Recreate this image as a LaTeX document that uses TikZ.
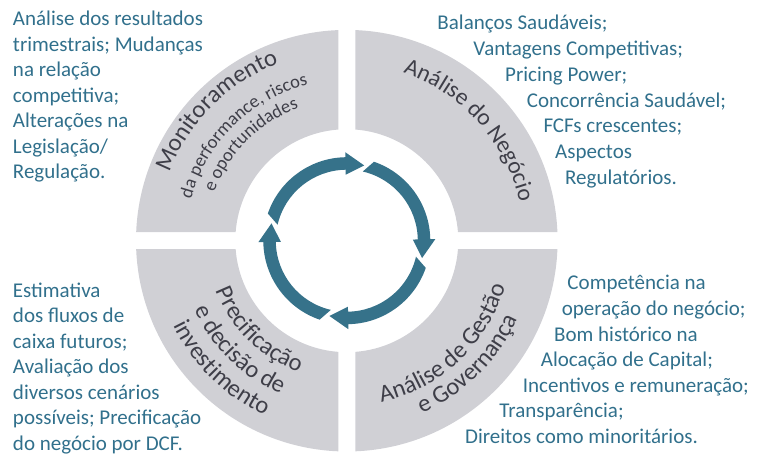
\documentclass[tikz,border=0pt]{standalone}
\usepackage{fontspec}
\setmainfont{Carlito}
\usetikzlibrary{decorations.text}
\definecolor{bodyc}{HTML}{31708C}
\definecolor{arrc}{HTML}{36728A}
\definecolor{quadc}{HTML}{D0D0D5}
\definecolor{qtextc}{HTML}{3E3E48}
\newcommand\qtfont{\fontsize{24.5}{26}\selectfont}
\newcommand\qnfont{\fontsize{23.5}{25}\selectfont}
\newcommand\qsfont{\fontsize{18.5}{20}\selectfont}
\begin{document}
\begin{tikzpicture}[x=1pt,y=1pt,
  body/.style={font=\fontsize{21}{25}\selectfont, text=bodyc, inner sep=0pt, anchor=base west},
  quad/.style={fill=quadc},
  arr/.style={fill=arrc},
  cwtext/.style={decorate, decoration={text along path, text align=center, text color=qtextc, text={#1}}}]
\useasboundingbox (-346.8,-214.3) rectangle (422.2,240.7);
% quadrants
\foreach \k in {0,1,2,3}
  \fill[quad, rotate=90*\k] (87.69:210.8pt) arc[start angle=87.69, end angle=2.31, radius=210.8pt]
     -- (4.37:111.5pt) arc[start angle=4.37, end angle=85.63, radius=111.5pt] -- cycle;
% cycle arrows
\foreach \k in {0,1,2,3}
  \fill[arr, rotate=-90*\k] (161:83.5pt) arc[start angle=161, end angle=91, radius=83.5pt]
     -- (91:88.5pt) -- (77:77.25pt) -- (91:66pt) -- (91:71pt)
     arc[start angle=91, end angle=167, radius=71pt] -- cycle;
% quadrant titles
\path[cwtext={|\qtfont|Monitoramento}] (185:190pt) arc[start angle=185, end angle=85, radius=190pt];
\path[cwtext={|\qsfont|da performance{,} riscos}] (185:161pt) arc[start angle=185, end angle=84, radius=161pt];
\path[cwtext={|\qsfont|e oportunidades}] (185:141pt) arc[start angle=185, end angle=85, radius=141pt];
\path[cwtext={|\qnfont|Análise do Negócio}] (91:177pt) arc[start angle=91, end angle=-7, radius=177pt];
\path[cwtext={|\qtfont|Análise de Gestão}] (-97:165pt) arc[start angle=-97, end angle=3, radius=165pt];
\path[cwtext={|\qtfont|e Governança}] (-95.5:188pt) arc[start angle=-95.5, end angle=4.5, radius=188pt];
\path[cwtext={|\qtfont|Precificação}] (-184.5:140pt) arc[start angle=-184.5, end angle=-84.5, radius=140pt];
\path[cwtext={|\qtfont|e decisão de}] (-184.5:167pt) arc[start angle=-184.5, end angle=-84.5, radius=167pt];
\path[cwtext={|\qtfont|investimento}] (-184.5:193pt) arc[start angle=-184.5, end angle=-84.5, radius=193pt];
% top-left text
\node[body] (tl1) at (-334,214.7) {Análise dos resultados};
\node[body] (tl2) at (-334,189.2) {trimestrais; Mudanças};
\node[body] (tl3) at (-334,163.7) {na relação};
\node[body] (tl4) at (-334,138.2) {competitiva;};
\node[body] (tl5) at (-334,112.7) {Alterações na};
\node[body] (tl6) at (-334,87.2) {Legislação/};
\node[body] (tl7) at (-334,61.7) {Regulação.};
% top-right text
\node[body] (tr1) at (90.5,210.7) {Balanços Saudáveis;};
\node[body] (tr2) at (126.5,185.0) {Vantagens Competitivas;};
\node[body] (tr3) at (158.2,159.3) {Pricing Power;};
\node[body] (tr4) at (179.9,133.6) {Concorrência Saudável;};
\node[body] (tr5) at (196.5,107.9) {FCFs crescentes;};
\node[body] (tr6) at (208.2,82.2) {Aspectos};
\node[body] (tr7) at (218.2,56.5) {Regulatórios.};
% bottom-left text
\node[body] (bl1) at (-334,-56.6) {Estimativa};
\node[body] (bl2) at (-334,-82.0) {dos fluxos de};
\node[body] (bl3) at (-334,-107.5) {caixa futuros;};
\node[body] (bl4) at (-334,-133.0) {Avaliação dos};
\node[body] (bl5) at (-334,-158.4) {diversos cenários};
\node[body] (bl6) at (-334,-183.9) {possíveis; Precificação};
\node[body] (bl7) at (-334,-209.3) {do negócio por DCF.};
% bottom-right text
\node[body] (br1) at (220.5,-49.3) {Competência na};
\node[body] (br2) at (214.9,-74.8) {operação do negócio;};
\node[body] (br3) at (207.2,-100.3) {Bom histórico na};
\node[body] (br4) at (193.9,-126.0) {Alocação de Capital;};
\node[body] (br5) at (175.9,-151.6) {Incentivos e remuneração;};
\node[body] (br6) at (152.5,-177.0) {Transparência;};
\node[body] (br7) at (118.2,-202.6) {Direitos como minoritários.};
\end{tikzpicture}
\end{document}
